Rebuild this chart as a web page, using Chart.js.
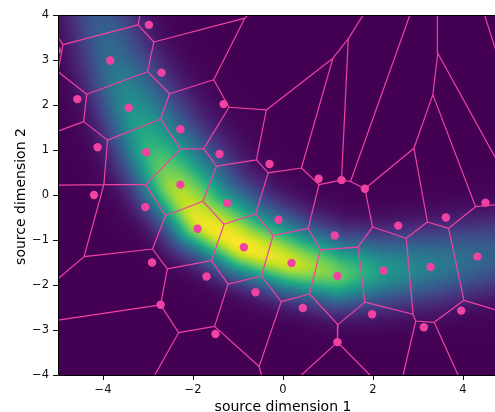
<!DOCTYPE html>
<html>
<head>
<meta charset="utf-8">
<script src="https://cdn.jsdelivr.net/npm/chart.js@4.4.1/dist/chart.umd.min.js"></script>
<style>
  html, body { margin: 0; padding: 0; background: #fff; overflow: hidden; }
  #wrap { width: 495px; height: 412px; }
</style>
</head>
<body>
<div id="wrap"><canvas id="chart" width="495" height="412"></canvas></div>
<script>
// ── Data (source space) ──────────────────────────────────────────────────────
const xTicks = [-4, -2, 0, 2, 4];
const yTicks = [-4, -3, -2, -1, 0, 1, 2, 3, 4];

// mapped sample points
const pointsX = [-2.98, -5.03, -3.84, -2.70, -4.57, -3.43, -2.28, -4.12, -3.04, -1.32,
                 -2.28, -4.20, -3.06, -1.90, -2.91, -1.70, -2.72, -1.41, -0.30, 0.79,
                  1.30,  1.82, -1.24, -0.10,  1.15, -0.87,  0.19,  1.21, -0.61, 0.44,
                 -1.50,  1.21,  4.50,  2.56,  3.62,  2.24,  3.28,  4.32,  1.98, 3.96, 3.13];
const pointsY = [ 3.78,  3.21,  2.99,  2.72,  2.13,  1.94,  1.46,  1.06,  0.95,  2.02,
                  0.23,  0.00, -0.27, -0.75, -1.50, -1.81, -2.44,  0.91,  0.69,  0.36,
                  0.33,  0.14, -0.18, -0.55, -0.90, -1.16, -1.51, -1.80, -2.16, -2.51,
                 -3.09, -3.27, -0.17, -0.68, -0.50, -1.68, -1.60, -1.37, -2.65, -2.57, -2.94];

// voronoi cell vertices and the ridges joining them
const cellVertX = [-3.18, -3.22, -4.89, -5.00, -5.00, -2.87, -0.85, -0.78, -1.54, -3.01,
                   -4.36, -2.52, -2.72, -3.90, -2.28, -1.76, -4.43, -5.00, -3.98, -5.00,
                   -3.05, -1.20, -0.37, -1.48, -0.59, -0.33,  0.41,  1.11,  1.45,  1.78,
                    1.30,  0.80,  1.50,  2.82,  1.82,  2.91,  3.33,  3.44,  3.43,  5.00,
                    4.48,  5.00,  4.28,  5.00,  3.68,  3.21,  4.02,  5.00,  3.36,  3.89,
                    2.89,  2.95,  2.67,  1.99,  1.67,  2.74,  1.82,  1.22,  0.59,  0.83,
                    0.56, -0.22, -0.61, -1.31, -1.78, -2.61, -2.90, -4.42, -5.00, -2.57,
                   -2.72, -5.00, -2.32, -2.85, -1.59, -1.22, -0.48, -0.04, -1.52, -0.53,
                   -0.48,  1.21,  0.41,  1.93];
const cellVertY = [ 4.00,  3.78,  3.34,  3.50,  2.74,  3.40,  3.93,  4.00,  2.56,  2.74,
                    2.24,  2.25,  1.69,  1.22,  1.02,  1.03,  1.63,  1.42,  0.23,  0.22,
                    0.23,  1.95,  1.89,  0.64,  0.78,  0.49,  0.60,  3.04,  3.47,  4.00,
                    0.33,  0.23,  0.30,  4.00,  0.14,  1.04,  2.23,  3.15,  4.00,  0.32,
                    4.00,  2.36, -0.26, -0.19, -0.74, -0.60, -2.34, -2.63, -2.83, -4.00,
                   -2.65, -2.80, -4.00, -0.71, -1.16, -0.96, -2.38, -2.88, -2.20, -1.22,
                   -0.74, -0.90, -0.42, -0.65, -0.14, -0.46, -1.20, -1.37, -1.86, -1.64,
                   -2.44, -2.78, -3.06, -4.00, -1.46, -1.98, -1.80, -2.37, -2.92, -3.81,
                   -4.00, -3.27, -4.00, -4.00];
const cellRidges = [
  [0, 1], [1, 2], [1, 5], [2, 3], [2, 4], [4, 10], [5, 6], [6, 7], [6, 8], [8, 11],
  [9, 5], [9, 10], [9, 11], [11, 12], [12, 13], [12, 14], [13, 16], [16, 10], [16, 17], [13, 18],
  [18, 19], [18, 20], [20, 14], [14, 15], [15, 21], [21, 8], [21, 22], [22, 27], [22, 24], [24, 23],
  [23, 15], [23, 64], [24, 25], [25, 26], [25, 62], [26, 27], [27, 28], [28, 29], [28, 30], [26, 31],
  [31, 30], [30, 32], [32, 33], [32, 34], [34, 35], [34, 53], [35, 36], [35, 45], [36, 37], [36, 42],
  [37, 38], [37, 39], [40, 41], [42, 43], [42, 44], [44, 45], [44, 46], [46, 47], [46, 48], [48, 51],
  [48, 49], [45, 55], [55, 53], [55, 50], [50, 51], [51, 52], [53, 54], [54, 59], [54, 56], [56, 50],
  [56, 57], [57, 58], [57, 81], [81, 82], [81, 83], [59, 58], [59, 60], [60, 31], [60, 61], [61, 62],
  [61, 76], [62, 63], [63, 64], [64, 65], [63, 74], [65, 20], [65, 66], [66, 67], [67, 18], [67, 68],
  [66, 69], [69, 74], [69, 70], [70, 71], [70, 72], [72, 73], [72, 78], [74, 75], [75, 76], [75, 78],
  [76, 77], [77, 58], [77, 79], [79, 78], [79, 80]
];

// density ridge: centre line, peak level and spread on the inner / outer side
const bandX      = [-4.35, -4.07, -3.78, -3.36, -2.92, -2.47, -1.85, -0.87,  0.19,  1.22,  2.24,  3.28,  4.33,  5.30];
const bandY      = [ 5.00,  4.00,  3.00,  1.96,  1.00,  0.23, -0.57, -1.15, -1.51, -1.75, -1.68, -1.57, -1.40, -1.25];
const bandPeak   = [ 0.20,  0.28,  0.36,  0.50,  0.66,  0.85,  0.97,  1.00,  0.93,  0.77,  0.52,  0.42,  0.33,  0.27];
const bandSigIn  = [ 0.55,  0.56,  0.60,  0.66,  0.72,  0.74,  0.72,  0.65,  0.58,  0.55,  0.55,  0.56,  0.57,  0.57];
const bandSigOut = [ 0.50,  0.50,  0.50,  0.50,  0.50,  0.48,  0.46,  0.45,  0.46,  0.48,  0.52,  0.54,  0.55,  0.55];

// viridis stops
const viridisStops = ['#440154', '#482475', '#414487', '#355f8d', '#2a788e', '#21918c',
                      '#22a884', '#44bf70', '#7ad151', '#bddf26', '#fde725'];

const PINK = 'rgb(240,66,160)';
const FONT = 'DejaVu Sans';

// ── Helpers ──────────────────────────────────────────────────────────────────
const viridisRGB = viridisStops.map(h => [1, 3, 5].map(i => parseInt(h.substr(i, 2), 16)));

function viridis(v) {
  v = Math.max(0, Math.min(1, v)) * (viridisRGB.length - 1);
  const i = Math.min(Math.floor(v), viridisRGB.length - 2), f = v - i;
  const a = viridisRGB[i], b = viridisRGB[i + 1];
  return [a[0] + (b[0] - a[0]) * f, a[1] + (b[1] - a[1]) * f, a[2] + (b[2] - a[2]) * f];
}

function bandDensity(px, py) {
  let best = Infinity, bi = 0, bt = 0, side = 1;
  for (let k = 0; k < bandX.length - 1; k++) {
    const ax = bandX[k], ay = bandY[k];
    const dx = bandX[k + 1] - ax, dy = bandY[k + 1] - ay;
    let t = ((px - ax) * dx + (py - ay) * dy) / (dx * dx + dy * dy);
    t = Math.max(0, Math.min(1, t));
    const qx = ax + t * dx - px, qy = ay + t * dy - py;
    const d2 = qx * qx + qy * qy;
    if (d2 < best) { best = d2; bi = k; bt = t; side = dx * (py - ay) - dy * (px - ax); }
  }
  const lerp = arr => arr[bi] + (arr[bi + 1] - arr[bi]) * bt;
  const s = side > 0 ? lerp(bandSigIn) : lerp(bandSigOut);
  return lerp(bandPeak) * Math.exp(-best / (2 * s * s));
}

const fmtTick = v => String(v).replace('-', '\u2212');

// ── Plugins ──────────────────────────────────────────────────────────────────
const densityLayer = {
  id: 'densityLayer',
  beforeDatasetsDraw(chart) {
    const { ctx, chartArea: a, scales: { x, y } } = chart;
    const w = Math.round(a.right - a.left), h = Math.round(a.bottom - a.top);
    const off = document.createElement('canvas');
    off.width = w; off.height = h;
    const octx = off.getContext('2d');
    const img = octx.createImageData(w, h);
    for (let j = 0; j < h; j++) {
      const vy = y.getValueForPixel(a.top + j + 0.5);
      for (let i = 0; i < w; i++) {
        const vx = x.getValueForPixel(a.left + i + 0.5);
        const c = viridis(bandDensity(vx, vy));
        const o = (j * w + i) * 4;
        img.data[o] = c[0]; img.data[o + 1] = c[1]; img.data[o + 2] = c[2]; img.data[o + 3] = 255;
      }
    }
    octx.putImageData(img, 0, 0);
    ctx.drawImage(off, a.left, a.top);
  }
};

const frameAndTitles = {
  id: 'frameAndTitles',
  afterDraw(chart) {
    const { ctx, chartArea: a, scales: { x, y } } = chart;
    ctx.save();
    ctx.strokeStyle = '#000';
    ctx.lineWidth = 1;
    ctx.beginPath();
    ctx.moveTo(a.right + 1, a.top + 0.5);
    ctx.lineTo(a.left + 0.5, a.top + 0.5);
    ctx.lineTo(a.left + 0.5, a.bottom + 0.5);
    ctx.lineTo(a.right + 1, a.bottom + 0.5);
    ctx.stroke();

    ctx.fillStyle = '#000';
    ctx.font = `14px "${FONT}"`;
    ctx.textAlign = 'center';
    ctx.textBaseline = 'alphabetic';
    ctx.fillText('source dimension 1', x.getPixelForValue(0), 410.5);
    ctx.translate(25, y.getPixelForValue(0) + 1.5);
    ctx.rotate(-Math.PI / 2);
    ctx.fillText('source dimension 2', 0, 0);
    ctx.restore();
  }
};

// ── Chart ────────────────────────────────────────────────────────────────────
const pointData = pointsX.map((v, i) => ({ x: v, y: pointsY[i] }));
const ridgeData = [];
cellRidges.forEach(([p, q]) => {
  ridgeData.push({ x: cellVertX[p], y: cellVertY[p] });
  ridgeData.push({ x: cellVertX[q], y: cellVertY[q] });
  ridgeData.push({ x: null, y: null });
});

const tickFont = { family: FONT, size: 11.5 };

new Chart(document.getElementById('chart'), {
  type: 'scatter',
  data: {
    datasets: [
      {
        label: 'points', data: pointData, order: 0, clip: 0,
        pointRadius: 4.2, pointBackgroundColor: PINK, pointBorderWidth: 0, showLine: false,
      },
      {
        label: 'voronoi', data: ridgeData, order: 1, clip: 0,
        showLine: true, spanGaps: false, borderColor: PINK, borderWidth: 1.2,
        pointRadius: 0, tension: 0,
      },
    ],
  },
  options: {
    responsive: false, animation: false, devicePixelRatio: 1, events: [],
    layout: { autoPadding: false, padding: { top: 15, right: 0, bottom: 0, left: 0 } },
    plugins: { legend: { display: false }, tooltip: { enabled: false } },
    scales: {
      x: {
        type: 'linear', min: -5, max: 4.711,
        afterBuildTicks: s => { s.ticks = xTicks.map(v => ({ value: v })); },
        afterFit: s => { s.height = 37; s.paddingLeft = 0; s.paddingRight = 0; },
        ticks: { callback: fmtTick, font: tickFont, color: '#111', padding: 3, maxRotation: 0, autoSkip: false },
        grid: { drawOnChartArea: false, drawTicks: true, tickLength: 5, tickColor: '#111', tickWidth: 1 },
        border: { display: false },
      },
      y: {
        type: 'linear', min: -4, max: 4,
        afterBuildTicks: s => { s.ticks = yTicks.map(v => ({ value: v })); },
        afterFit: s => { s.width = 58; s.paddingTop = 0; s.paddingBottom = 0; },
        ticks: { callback: fmtTick, font: tickFont, color: '#111', padding: 4, autoSkip: false },
        grid: { drawOnChartArea: false, drawTicks: true, tickLength: 5, tickColor: '#111', tickWidth: 1 },
        border: { display: false },
      },
    },
  },
  plugins: [densityLayer, frameAndTitles],
});
</script>
</body>
</html>
